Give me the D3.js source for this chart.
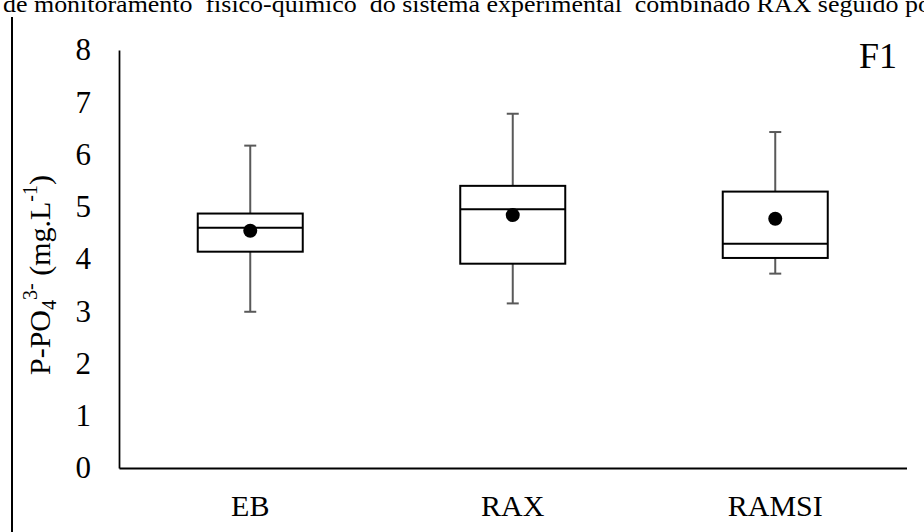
<!DOCTYPE html>
<html>
<head>
<meta charset="utf-8">
<script src="https://cdn.jsdelivr.net/npm/d3@7"></script>
<style>
  html, body { margin: 0; padding: 0; background: #fff; }
  svg { display: block; font-family: "Liberation Serif", "Times New Roman", serif; }
</style>
</head>
<body>
<svg id="chart" width="924" height="532"></svg>
<script>
// Phosphate (P-PO4 3-) box plots per sampling point
const categories = ["EB", "RAX", "RAMSI"];
const minVals    = [2.99, 3.15, 3.72];
const q1Vals     = [4.14, 3.91, 4.02];
const medianVals = [4.60, 4.95, 4.29];
const q3Vals     = [4.87, 5.40, 5.29];
const maxVals    = [6.17, 6.78, 6.43];
const meanVals   = [4.54, 4.84, 4.77];
const yTicks     = [0, 1, 2, 3, 4, 5, 6, 7, 8];
const headerText = "de monitoramento  físico-químico  do sistema experimental  combinado RAX seguido po";
const panelLabel = "F1";

const rows = categories.map((c, i) => ({
  cat: c, min: minVals[i], q1: q1Vals[i], med: medianVals[i],
  q3: q3Vals[i], max: maxVals[i], mean: meanVals[i]
}));

const serif = "'Liberation Serif', 'Times New Roman', serif";
const svg = d3.select("#chart");

const x = d3.scaleBand().domain(categories).range([119, 906.5]).paddingInner(0).paddingOuter(0);
const y = d3.scaleLinear().domain([0, 8]).range([468, 50]);

// running text line above the figure
svg.append("text")
  .attr("x", 3).attr("y", 12)
  .attr("font-size", 24)
  .attr("font-family", serif)
  .attr("textLength", 928)
  .attr("lengthAdjust", "spacingAndGlyphs")
  .style("white-space", "pre")
  .attr("fill", "#000")
  .text(headerText);

// left frame line
svg.append("line")
  .attr("x1", 12).attr("x2", 12).attr("y1", 17).attr("y2", 532)
  .attr("stroke", "#000").attr("stroke-width", 2);

// axes
const yAxis = d3.axisLeft(y).tickValues(yTicks).tickSize(0).tickPadding(28).tickFormat(d3.format("d"));
const gy = svg.append("g").attr("transform", "translate(119,0)").call(yAxis);
gy.attr("font-family", serif);
gy.select(".domain").attr("stroke", "#000").attr("stroke-width", 1.75);
gy.selectAll("text").attr("font-size", 31).attr("font-family", serif).attr("fill", "#000");

const xAxis = d3.axisBottom(x).tickSize(0).tickPadding(27);
const gx = svg.append("g").attr("transform", "translate(0,468)").call(xAxis);
gx.attr("font-family", serif);
gx.select(".domain").attr("stroke", "#000").attr("stroke-width", 2);
gx.selectAll("text").attr("font-size", 30).attr("font-family", serif).attr("fill", "#000");

// y-axis title with sub/superscripts
const yTitle = svg.append("text")
  .attr("transform", "translate(50,275) rotate(-90)")
  .attr("text-anchor", "middle")
  .attr("font-size", 30)
  .attr("font-family", serif)
  .attr("fill", "#000");
yTitle.append("tspan").text("P-PO");
yTitle.append("tspan").attr("font-size", 20).attr("dy", 6).text("4");
yTitle.append("tspan").attr("font-size", 20).attr("dy", -19).text("3-");
yTitle.append("tspan").attr("dy", 13).text(" (mg.L");
yTitle.append("tspan").attr("font-size", 20).attr("dy", -13).text("-1");
yTitle.append("tspan").attr("dy", 13).text(")");

// panel label
svg.append("text")
  .attr("x", 859).attr("y", 68)
  .attr("font-size", 36)
  .attr("font-family", serif)
  .attr("fill", "#000")
  .text(panelLabel);

// box plots
const boxW = x.bandwidth() * 0.4;
const capW = 12;
const g = svg.append("g");
const cx = d => x(d.cat) + x.bandwidth() / 2;

// whiskers
g.selectAll(".wh-up").data(rows).join("line")
  .attr("x1", cx).attr("x2", cx)
  .attr("y1", d => y(d.q3)).attr("y2", d => y(d.max))
  .attr("stroke", "#595959").attr("stroke-width", 2);
g.selectAll(".wh-dn").data(rows).join("line")
  .attr("x1", cx).attr("x2", cx)
  .attr("y1", d => y(d.q1)).attr("y2", d => y(d.min))
  .attr("stroke", "#595959").attr("stroke-width", 2);
g.selectAll(".cap-up").data(rows).join("line")
  .attr("x1", d => cx(d) - capW / 2).attr("x2", d => cx(d) + capW / 2)
  .attr("y1", d => y(d.max)).attr("y2", d => y(d.max))
  .attr("stroke", "#595959").attr("stroke-width", 2);
g.selectAll(".cap-dn").data(rows).join("line")
  .attr("x1", d => cx(d) - capW / 2).attr("x2", d => cx(d) + capW / 2)
  .attr("y1", d => y(d.min)).attr("y2", d => y(d.min))
  .attr("stroke", "#595959").attr("stroke-width", 2);

// boxes
g.selectAll(".box").data(rows).join("rect")
  .attr("x", d => cx(d) - boxW / 2)
  .attr("width", boxW)
  .attr("y", d => y(d.q3))
  .attr("height", d => y(d.q1) - y(d.q3))
  .attr("fill", "#fff").attr("stroke", "#000").attr("stroke-width", 2);

// medians
g.selectAll(".med").data(rows).join("line")
  .attr("x1", d => cx(d) - boxW / 2).attr("x2", d => cx(d) + boxW / 2)
  .attr("y1", d => y(d.med)).attr("y2", d => y(d.med))
  .attr("stroke", "#000").attr("stroke-width", 2);

// means
g.selectAll(".mean").data(rows).join("circle")
  .attr("cx", cx).attr("cy", d => y(d.mean)).attr("r", 7)
  .attr("fill", "#000");
</script>
</body>
</html>
